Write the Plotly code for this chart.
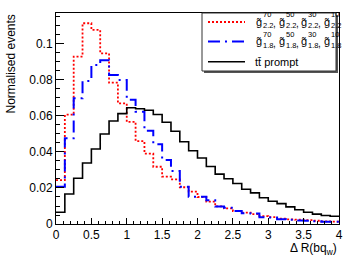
import plotly.graph_objects as go

# ---------------- data ----------------
bin_edges = [0.0, 0.125, 0.25, 0.375, 0.5, 0.625, 0.75, 0.875, 1.0, 1.125, 1.25,
             1.375, 1.5, 1.625, 1.75, 1.875, 2.0, 2.125, 2.25, 2.375, 2.5, 2.625,
             2.75, 2.875, 3.0, 3.125, 3.25, 3.375, 3.5, 3.625, 3.75, 3.875, 4.0]

g22_values = [0.0244, 0.0607, 0.0930, 0.1115, 0.1078, 0.0948, 0.0785, 0.0670,
              0.0567, 0.0460, 0.0391, 0.0318, 0.0263, 0.0248, 0.0204, 0.0180,
              0.0150, 0.0124, 0.0098, 0.0087, 0.0072, 0.0063, 0.0055, 0.0044,
              0.0038, 0.0030, 0.0026, 0.0024, 0.0022, 0.0018, 0.0015, 0.0013]

g18_values = [0.0207, 0.0476, 0.0698, 0.0794, 0.0883, 0.0910, 0.0828, 0.0800,
              0.0690, 0.0624, 0.0518, 0.0443, 0.0356, 0.0294, 0.0207, 0.0152,
              0.0152, 0.0132, 0.0097, 0.0090, 0.0072, 0.0060, 0.0058, 0.0038,
              0.0036, 0.0027, 0.0023, 0.0020, 0.0018, 0.0015, 0.0012, 0.0012]

ttbar_values = [0.0065, 0.0167, 0.0254, 0.0339, 0.0417, 0.0500, 0.0572, 0.0613,
                0.0646, 0.0640, 0.0632, 0.0608, 0.0565, 0.0515, 0.0457, 0.0407,
                0.0367, 0.0319, 0.0277, 0.0251, 0.0225, 0.0193, 0.0173, 0.0146,
                0.0126, 0.0113, 0.0095, 0.0079, 0.0065, 0.0055, 0.0047, 0.0043]

mass_labels = ["70", "50", "30", "10"]
width_labels = ["2.2", "1.8"]
ttbar_label = "tt\u0304 prompt"
x_title = "\u0394 R(bq<sub>w</sub>)"
y_title = "Normalised events"

# ---------------- layout geometry (pixels) ----------------
W, H = 355, 265
L, R, T, B = 56, 339, 13, 224
PW, PH = R - L, B - T
FONT = "Liberation Sans, Arial, Helvetica, sans-serif"


def px(x):
    return (x - L) / PW


def py(y):
    return (B - y) / PH


def step(vals):
    return list(vals) + [vals[-1]]


styles = [
    (g22_values, dict(color="#ff0000", width=1.8, dash="2px,2px")),
    (g18_values, dict(color="#0000ff", width=2, dash="12px,5px,2px,5px")),
    (ttbar_values, dict(color="#000000", width=1.6)),
]

fig = go.Figure()
for vals, line in styles:
    fig.add_trace(go.Scatter(x=bin_edges, y=step(vals), mode="lines",
                             line=dict(shape="hv", **line),
                             showlegend=False, hoverinfo="skip"))

axis_common = dict(showgrid=False, zeroline=False, showline=True, mirror=True,
                   linecolor="black", linewidth=1, ticks="inside", automargin=False,
                   tickcolor="black", tickfont=dict(family=FONT, size=12, color="black"))

fig.update_xaxes(range=[0, 4], dtick=0.5, tick0=0, ticklen=6,
                 minor=dict(dtick=0.1, ticks="inside", ticklen=3, tickcolor="black"),
                 **axis_common)
fig.update_yaxes(range=[0, 0.1172], dtick=0.02, tick0=0, ticklen=8,
                 minor=dict(dtick=0.005, ticks="inside", ticklen=4, tickcolor="black"),
                 **axis_common)

shapes = []
annotations = []

# legend box with shadow
bx0, by0, bx1, by1 = 202, 13, 336, 71
shapes.append(dict(type="rect", xref="paper", yref="paper",
                   x0=px(bx0 + 2), x1=px(bx1 + 2), y0=py(by1 + 2), y1=py(by0 + 2),
                   fillcolor="#555555", line=dict(width=0), layer="above"))
shapes.append(dict(type="rect", xref="paper", yref="paper",
                   x0=px(bx0), x1=px(bx1), y0=py(by1), y1=py(by0),
                   fillcolor="white", line=dict(color="#333333", width=1), layer="above"))

rows_y = [22.0, 41.5, 61.7]
for (vals, line), ry in zip(styles, rows_y):
    shapes.append(dict(type="line", xref="paper", yref="paper",
                       x0=px(208), x1=px(245), y0=py(ry), y1=py(ry),
                       line=line, layer="above"))

for wlab, ry in zip(width_labels, rows_y[:2]):
    for i, mlab in enumerate(mass_labels):
        xg = 254 + 22.7 * i
        annotations.append(dict(text="g\u0303", x=px(xg), y=py(ry - 0.5), xref="paper",
                                yref="paper", xanchor="left", yanchor="middle",
                                showarrow=False, font=dict(family=FONT, size=11, color="black")))
        annotations.append(dict(text=mlab, x=px(xg + 7), y=py(ry - 7.5), xref="paper",
                                yref="paper", xanchor="left", yanchor="middle",
                                showarrow=False, font=dict(family=FONT, size=7.5, color="black")))
        annotations.append(dict(text=wlab, x=px(xg + 7), y=py(ry + 3.5), xref="paper",
                                yref="paper", xanchor="left", yanchor="middle",
                                showarrow=False, font=dict(family=FONT, size=7.5, color="black")))
        if i < len(mass_labels) - 1:
            annotations.append(dict(text=",", x=px(xg + 17), y=py(ry + 2), xref="paper",
                                    yref="paper", xanchor="left", yanchor="middle",
                                    showarrow=False, font=dict(family=FONT, size=10, color="black")))

annotations.append(dict(text=ttbar_label, x=px(253), y=py(rows_y[2]), xref="paper",
                        yref="paper", xanchor="left", yanchor="middle", showarrow=False,
                        font=dict(family=FONT, size=11, color="black")))

# axis titles
annotations.append(dict(text=x_title, x=1, y=py(249), xref="paper", yref="paper",
                        xanchor="right", yanchor="middle", showarrow=False,
                        font=dict(family=FONT, size=12, color="black")))
annotations.append(dict(text=y_title, x=px(10), y=1, xref="paper", yref="paper",
                        xanchor="center", yanchor="top", textangle=-90, showarrow=False,
                        font=dict(family=FONT, size=12, color="black")))

fig.update_layout(width=W, height=H, margin=dict(l=L, r=W - R, t=T, b=H - B),
                  paper_bgcolor="white", plot_bgcolor="white",
                  shapes=shapes, annotations=annotations, showlegend=False)

fig.write_html("out.html",
               config={"displayModeBar": False, "staticPlot": True},
               post_script="document.body.style.margin='0';"
                           "document.body.style.overflow='hidden';")
